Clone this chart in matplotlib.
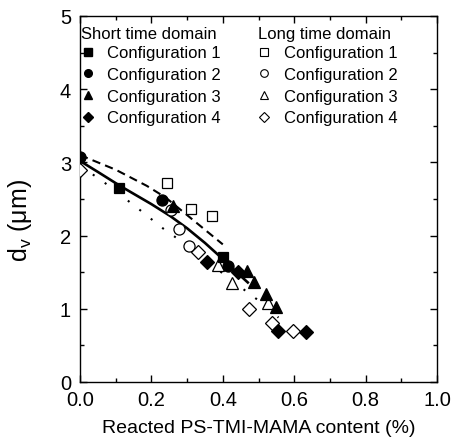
import matplotlib
matplotlib.use('Agg')
import matplotlib.pyplot as plt
from matplotlib.ticker import MultipleLocator, FormatStrFormatter
from matplotlib.lines import Line2D

plt.rcParams['font.family'] = ['Liberation Sans', 'DejaVu Sans']

labels = ['Configuration 1', 'Configuration 2', 'Configuration 3', 'Configuration 4']
markers = ['s', 'o', '^', 'D']

# short time domain (filled)
short_x = [[0.11, 0.40],
           [0.0, 0.23, 0.415],
           [0.26, 0.467, 0.487, 0.52, 0.55],
           [0.355, 0.443, 0.556, 0.633]]
short_y = [[2.65, 1.71],
           [3.08, 2.48, 1.59],
           [2.40, 1.52, 1.36, 1.20, 1.03],
           [1.64, 1.50, 0.69, 0.68]]

# long time domain (open)
long_x = [[0.245, 0.31, 0.37],
          [0.255, 0.277, 0.306],
          [0.387, 0.425, 0.527],
          [0.0, 0.331, 0.473, 0.539, 0.596]]
long_y = [[2.72, 2.37, 2.27],
          [2.35, 2.09, 1.86],
          [1.60, 1.35, 1.08],
          [2.90, 1.77, 1.00, 0.80, 0.70]]

# fitted curves
solid_x = [0.0, 0.05, 0.112, 0.2, 0.252, 0.3, 0.35, 0.4, 0.443, 0.47]
solid_y = [3.02, 2.87, 2.68, 2.43, 2.27, 2.10, 1.90, 1.68, 1.48, 1.36]
dash_x = [0.0, 0.04, 0.1, 0.187, 0.24, 0.28, 0.33, 0.37, 0.40]
dash_y = [3.10, 3.02, 2.90, 2.68, 2.52, 2.36, 2.16, 2.00, 1.88]
dot_x = [0.0, 0.028, 0.059, 0.115, 0.173, 0.232, 0.264, 0.33, 0.406, 0.476, 0.504, 0.556]
dot_y = [2.93, 2.86, 2.76, 2.55, 2.33, 2.10, 1.99, 1.75, 1.46, 1.20, 1.10, 0.88]

fig = plt.figure(figsize=(4.53, 4.39), dpi=100)
ax = fig.add_axes([80/453, 56/439, 357/453, 366/439])

ax.plot(solid_x, solid_y, '-', color='black', lw=1.9, zorder=2)
ax.plot(dash_x, dash_y, color='black', lw=1.5, dashes=(4, 2.5), zorder=2)
ax.plot(dot_x, dot_y, color='black', lw=1.5, dashes=(1, 6), zorder=2)

ms = [7.5, 8, 8.5, 7]
for i in range(4):
    ax.plot(long_x[i], long_y[i], markers[i], ls='none', ms=ms[i], mfc='white',
            mec='black', mew=0.9, zorder=3)
for i in range(4):
    ax.plot(short_x[i], short_y[i], markers[i], ls='none', ms=ms[i], mfc='black',
            mec='black', mew=0.9, zorder=4)

h_short = [Line2D([], [], marker=m, ls='none', ms=5.5, mfc='black', mec='black') for m in markers]
h_long = [Line2D([], [], marker=m, ls='none', ms=5.5, mfc='white', mec='black', mew=0.8) for m in markers]

leg_kw = dict(frameon=False, fontsize=12, title_fontsize=12, alignment='left',
              handlelength=0.8, handletextpad=0.75, labelspacing=0.4,
              borderpad=0, borderaxespad=0, loc='upper left')
leg1 = ax.legend(h_short, labels, title='Short time domain',
                 bbox_to_anchor=(0.004, 0.972), **leg_kw)
ax.add_artist(leg1)
ax.legend(h_long, labels, title='Long time domain',
          bbox_to_anchor=(0.498, 0.972), **leg_kw)
for lg in ax.get_legend(), leg1:
    lg._legend_box.sep = 3

ax.set_xlim(0, 1.0)
ax.set_ylim(0, 5)
ax.xaxis.set_major_locator(MultipleLocator(0.2))
ax.xaxis.set_minor_locator(MultipleLocator(0.1))
ax.yaxis.set_major_locator(MultipleLocator(1))
ax.yaxis.set_minor_locator(MultipleLocator(0.5))
ax.xaxis.set_major_formatter(FormatStrFormatter('%.1f'))
ax.tick_params(which='both', direction='in', top=True, right=True, labelsize=14.5, width=1)
ax.tick_params(which='major', length=5)
ax.tick_params(axis='x', which='major', pad=5.5)
ax.tick_params(axis='y', which='major', pad=6.5)
ax.tick_params(which='minor', length=3)
for s in ax.spines.values():
    s.set_linewidth(1)

ax.set_xlabel('Reacted PS-TMI-MAMA content (%)', fontsize=14)
ax.set_ylabel(r'd$_\mathregular{v}$ ($\mathregular{\mu}$m)', fontsize=18)
ax.xaxis.set_label_coords(0.5, -0.1)
ax.yaxis.set_label_coords(-0.13, 0.445)

fig.savefig('out.png', dpi=100)
